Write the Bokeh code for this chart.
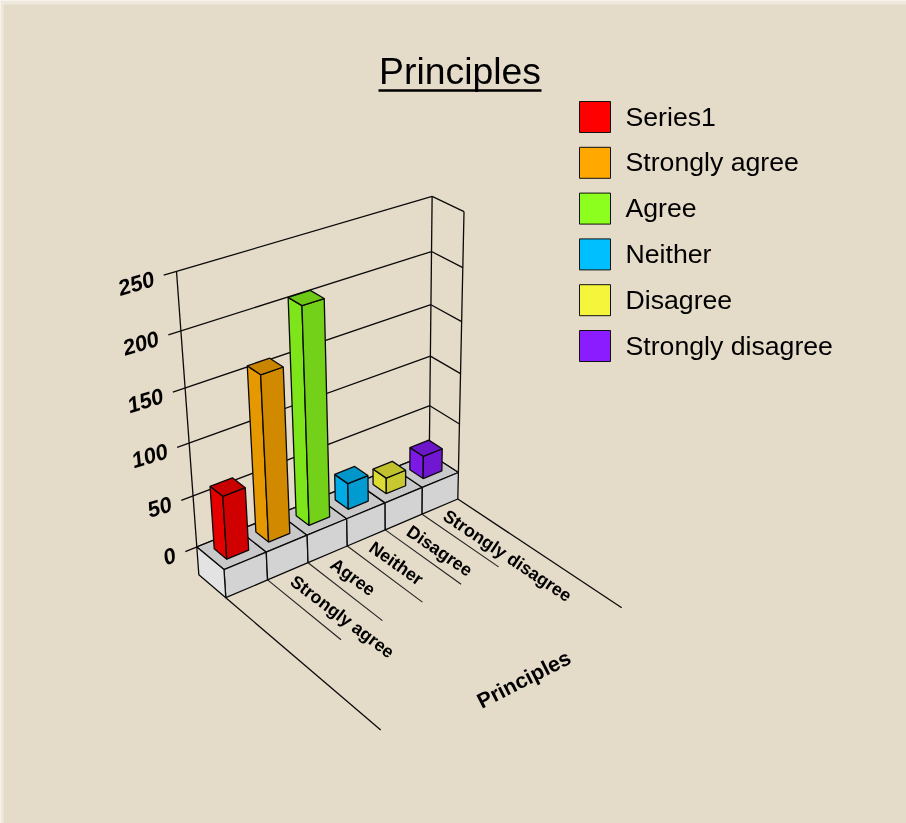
import numpy as np
from bokeh.plotting import figure
from bokeh.models import Range1d
from bokeh.core.properties import value
from bokeh.embed import file_html
from bokeh.resources import INLINE

# ---- chart data -------------------------------------------------------
title = "Principles"
x_title = "Principles"
series_names = ["Series1", "Strongly agree", "Agree", "Neither", "Disagree", "Strongly disagree"]
series_values = [61, 158, 206, 26, 16, 23]
category_labels = ["", "Strongly agree", "Agree", "Neither", "Disagree", "Strongly disagree"]
value_ticks = [0, 50, 100, 150, 200, 250]
base_colors = ["#FF0000", "#FFA900", "#8CFF1E", "#00BFFF", "#F5F53B", "#8A1CFF"]

W, H = 906, 823
FONT = value("Liberation Sans")
BG = "#E5DBC9"
EDGE = "#EFE8DC"
INK = "#0A0A0A"

base_low = -28
z_tick, z_long = 3.5, 6.05

# ---- 3D scale: world (category, value, depth) -> page pixel ------------
calib_world = [(0,250,0),(6,250,0),(6,250,1),(0,0,0),(0,0,1),(6,0,1),(6,50,0),(6,100,0),(6,150,0),(6,200,0),
               (1,0,1),(3,0,1),(5,0,1),(0,100,0),
               (0,base_low,1),(6,base_low,1),(0,base_low,z_long),(6,base_low,z_long),
               (1,base_low,z_tick),(3,base_low,z_tick),(5,base_low,z_tick)]
calib_px = [(176,271),(431,196),(464,211),(196.7,546.7),(223.3,568),(458,471.7),(429.3,405),(430,356),(430.7,304),(431,251),
            (266,550.7),(346,518.3),(421.7,486.7),(188.5,443),
            (225,597.5),(457,499),(380,729.3),(621,606.7),
            (340.7,640),(422.3,602.3),(498.3,566.7)]

def fit_projection(world, px):
    A, b = [], []
    for (x, y, z), (u, v) in zip(world, px):
        y = y / 250.0
        A.append([x, y, z, 1, 0, 0, 0, 0, -u*x, -u*y, -u*z]); b.append(u)
        A.append([0, 0, 0, 0, x, y, z, 1, -v*x, -v*y, -v*z]); b.append(v)
    s = np.linalg.lstsq(np.array(A, float), np.array(b, float), rcond=None)[0]
    return np.append(s, 1.0).reshape(3, 4)

M = fit_projection(calib_world, calib_px)

def proj(x, y, z):
    h = M @ np.array([x, y / 250.0, z, 1.0])
    return float(h[0] / h[2]), float(h[1] / h[2])

def poly(points):
    pts = [proj(*q) for q in points]
    return [a for a, _ in pts], [b for _, b in pts]

def shade(color, f):
    r, g, b = int(color[1:3], 16), int(color[3:5], 16), int(color[5:7], 16)
    return "#%02X%02X%02X" % (int(r*f), int(g*f), int(b*f))

n = len(series_values)
vmax = value_ticks[-1]
tick_stub = -0.27
bar_x0, bar_x1 = 0.24, 0.76
bar_z0, bar_z1 = 0.27, 0.73

p = figure(width=W, height=H, x_range=Range1d(0, W), y_range=Range1d(H, 0),
           output_backend="svg", toolbar_location=None, min_border=0,
           background_fill_color=EDGE, border_fill_color=EDGE, outline_line_color=None)
p.axis.visible = False
p.grid.visible = False
p.styles = {"position": "fixed", "left": "0px", "top": "0px"}

p.quad(left=[3], right=[W], top=[4], bottom=[H], fill_color=BG, line_color=None)

def seg(a, b, width=1.3, color=INK):
    (x0, y0), (x1, y1) = proj(*a), proj(*b)
    p.line([x0, x1], [y0, y1], line_color=color, line_width=width)

def face(points, fill):
    xs, ys = poly(points)
    p.patch(xs, ys, fill_color=fill, line_color=INK, line_width=1.3)

# walls
for t in value_ticks:
    seg((tick_stub, t, 0), (n, t, 0))
    seg((n, t, 0), (n, t, 1))
seg((0, 0, 0), (0, vmax, 0))
seg((n, 0, 0), (n, vmax, 0))
seg((n, 0, 1), (n, vmax, 1))

# floor rules
seg((0, base_low, 1), (0, base_low, z_long))
seg((n, base_low, 1), (n, base_low, z_long))
for i in range(1, n):
    seg((i, base_low, 1), (i, base_low, z_tick), width=1.1, color="#222222")

# base blocks and bars
for i in range(n):
    face([(i,0,0),(i+1,0,0),(i+1,0,1),(i,0,1)], "#C9C9C9")
    face([(i,0,1),(i+1,0,1),(i+1,base_low,1),(i,base_low,1)], "#D3D3D3")
face([(0,0,0),(0,0,1),(0,base_low,1),(0,base_low,0)], "#E3E3E3")

for i, (val, col) in enumerate(zip(series_values, base_colors)):
    a, b = i + bar_x0, i + bar_x1
    face([(a,0,bar_z0),(a,0,bar_z1),(a,val,bar_z1),(a,val,bar_z0)], shade(col, 0.90))
    face([(a,0,bar_z1),(b,0,bar_z1),(b,val,bar_z1),(a,val,bar_z1)], shade(col, 0.82))
    face([(a,val,bar_z0),(b,val,bar_z0),(b,val,bar_z1),(a,val,bar_z1)], shade(col, 0.79))

# value labels
for t in value_ticks:
    u, v = proj(tick_stub, t, 0)
    p.text([u - 10], [v + 3], text=[str(t)], text_font=FONT, text_font_style="bold italic",
           text_font_size="22px", text_align="right", text_baseline="middle",
           text_color="#000000", angle=17, angle_units="deg")

# category labels
for i, lab in enumerate(category_labels):
    if not lab:
        continue
    u, v = proj(i + 0.5, base_low, 1.22)
    p.text([u - 1.5], [v + 3], text=[lab], text_font=FONT, text_font_style="bold",
           text_font_size="17.8px", text_align="left", text_baseline="middle",
           text_color="#000000", angle=-37 + (i - 1) * 0.8, angle_units="deg")

# axis title
p.text([523.5], [679], text=[x_title], text_font=FONT, text_font_style="bold",
       text_font_size="21.33px", text_align="center", text_baseline="middle",
       text_color="#000000", angle=27, angle_units="deg")

# chart title
p.text([459.5], [70], text=[title], text_font=FONT, text_font_size="37.33px",
       text_align="center", text_baseline="alphabetic", text_color="#000000")
p.line([378, 541], [90, 90], line_color="#000000", line_width=2.6)

# legend
for k, (name, col) in enumerate(zip(series_names, base_colors)):
    cy = 116.5 + k * 45.8
    p.quad(left=[579], right=[610], top=[cy - 15.5], bottom=[cy + 15.5],
           fill_color=col, line_color="#111111", line_width=1.0)
    p.text([625], [cy - 0.5], text=[name], text_font=FONT, text_font_size="26.67px",
           text_align="left", text_baseline="alphabetic", text_color="#000000")

open("out.html", "w").write(file_html(p, INLINE))
